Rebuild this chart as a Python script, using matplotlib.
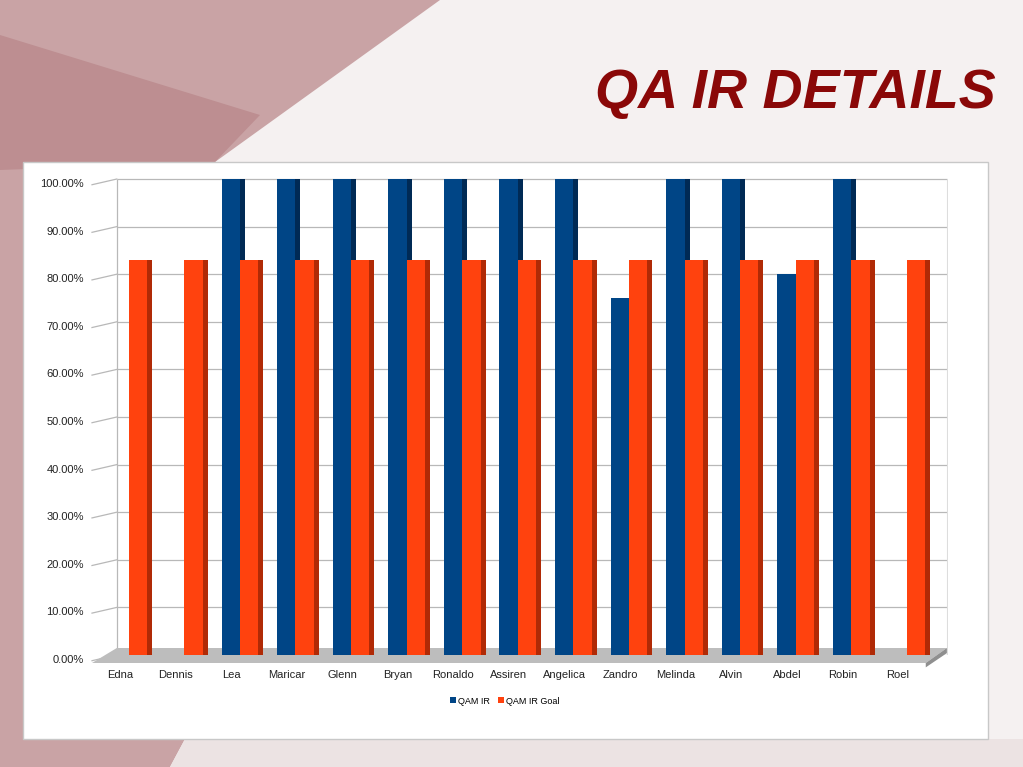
import numpy as np
import matplotlib.pyplot as plt
from matplotlib.patches import Polygon, Rectangle
from matplotlib.transforms import ScaledTranslation

# ------------------------------------------------------------
# data
# ------------------------------------------------------------
nomes = ['Edna', 'Dennis', 'Lea', 'Maricar', 'Glenn', 'Bryan', 'Ronaldo',
         'Assiren', 'Angelica', 'Zandro', 'Melinda', 'Alvin', 'Abdel',
         'Robin', 'Roel']
qam_ir = [0.0, 0.0, 1.0, 1.0, 1.0, 1.0, 1.0, 1.0, 1.0, 0.75, 1.0, 1.0,
          0.80, 1.0, 0.0]
qam_goal = [0.83] * 15
y_ticks = [0.0, 0.1, 0.2, 0.3, 0.4, 0.5, 0.6, 0.7, 0.8, 0.9, 1.0]

AZUL = '#004586'
AZUL_ESC = '#002a55'
LARANJA = '#ff420e'
LARANJA_ESC = '#b02a06'

W, H = 1023, 767
fig = plt.figure(figsize=(W / 100, H / 100), dpi=100)
fig.patch.set_facecolor('#f5f1f1')

def px(x, y):
    # pixel (top-left origin) -> figure fraction
    return (x / W, 1 - y / H)

# fundo avermelhado (slide)
fundo = Polygon([px(0, 0), px(440, 0), px(215, 162), px(40, 420),
                 px(40, 739), px(185, 739), px(170, 767), px(0, 767)],
                closed=True, transform=fig.transFigure,
                facecolor='#c9a3a5', edgecolor='none', zorder=0)
fig.patches.append(fundo)
faixa = Polygon([px(0, 35), px(260, 115), px(215, 162), px(0, 170)],
                closed=True, transform=fig.transFigure,
                facecolor='#bd8e91', edgecolor='none', zorder=0)
fig.patches.append(faixa)
base = Polygon([px(185, 739), px(1023, 739), px(1023, 767), px(170, 767)],
               closed=True, transform=fig.transFigure,
               facecolor='#ece3e3', edgecolor='none', zorder=0)
fig.patches.append(base)

# painel branco do grafico
x0, y0 = px(23, 739)
painel = Rectangle((x0, y0), (988 - 23) / W, (739 - 162) / H,
                   transform=fig.transFigure, facecolor='white',
                   edgecolor='#c8c8c8', linewidth=1, zorder=1)
fig.patches.append(painel)

fig.text(996 / W, 1 - 108 / H, 'QA IR DETAILS', ha='right', va='baseline',
         fontsize=40, fontweight='bold', fontstyle='italic',
         family='Liberation Sans', color='#8a0808')

# ------------------------------------------------------------
# eixo
# ------------------------------------------------------------
ax = fig.add_axes([92 / W, (767 - 655) / H, 856 / W, (655 - 169.5) / H])
ax.set_facecolor('none')
ax.set_zorder(2)
ax.set_xlim(-0.5, 14.9)
ax.set_ylim(0, 1.02)
for s in ax.spines.values():
    s.set_visible(False)

x = np.arange(len(nomes))
xb = -0.054   # parede do fundo
cinza = '#b8b8b8'

# grade na parede do fundo + linhas diagonais da parede lateral
ax.hlines(y_ticks, xb, 14.88, color=cinza, linewidth=0.9, zorder=1)
for t in y_ticks:
    ax.plot([-0.5, xb], [t - 0.012, t], color=cinza, linewidth=0.9,
            zorder=1, clip_on=False)
ax.vlines(xb, 0, 1.0, color=cinza, linewidth=0.9, zorder=1)
ax.vlines(14.88, 0, 1.0, color='#dddddd', linewidth=0.8, zorder=1)

# piso
piso = Polygon([(xb, 0.0147), (14.88, 0.0147), (14.5, -0.0168),
                (-0.5, -0.0168)], closed=True, facecolor='#bdbdbd',
               edgecolor='none', zorder=2, clip_on=False)
ax.add_patch(piso)
lado = Polygon([(14.88, 0.0147), (14.88, 0.004), (14.5, -0.026),
                (14.5, -0.0168)], closed=True, facecolor='#8f8f8f',
               edgecolor='none', zorder=2, clip_on=False)
ax.add_patch(lado)

# barras
larg = 0.42
lat = 0.09
off_b, off_l = 0.04, 0.37
ax.bar(x + off_b, qam_ir, width=larg, color=AZUL, zorder=3, label='QAM IR')
ax.bar(x + off_b + larg / 2 - lat / 2, qam_ir, width=lat, color=AZUL_ESC,
       zorder=3)
ax.bar(x + off_l, qam_goal, width=larg, color=LARANJA, zorder=4,
       label='QAM IR Goal')
ax.bar(x + off_l + larg / 2 - lat / 2, qam_goal, width=lat,
       color=LARANJA_ESC, zorder=4)

ax.set_yticks(y_ticks)
ax.set_yticklabels([f'{v * 100:.2f}%' for v in y_ticks], fontsize=8,
                   family='Liberation Sans', color='#222222')
ax.set_xticks(x)
ax.set_xticklabels(nomes, fontsize=8, family='Liberation Sans',
                   color='#222222')
ax.tick_params(axis='both', length=0)
ax.tick_params(axis='y', pad=6)
ax.tick_params(axis='x', pad=11)
desloc = ScaledTranslation(0, -4 / 100, fig.dpi_scale_trans)
for lbl in ax.get_yticklabels():
    lbl.set_transform(lbl.get_transform() + desloc)

h, l = ax.get_legend_handles_labels()
fig.legend(h, l, loc='center', bbox_to_anchor=(505 / W, 1 - 701 / H),
           ncol=2, frameon=False, handlelength=0.6, handleheight=0.6,
           handletextpad=0.3, columnspacing=0.9,
           prop={'family': 'Liberation Sans', 'size': 6.5})

fig.savefig('out.png', dpi=100, facecolor=fig.get_facecolor())
